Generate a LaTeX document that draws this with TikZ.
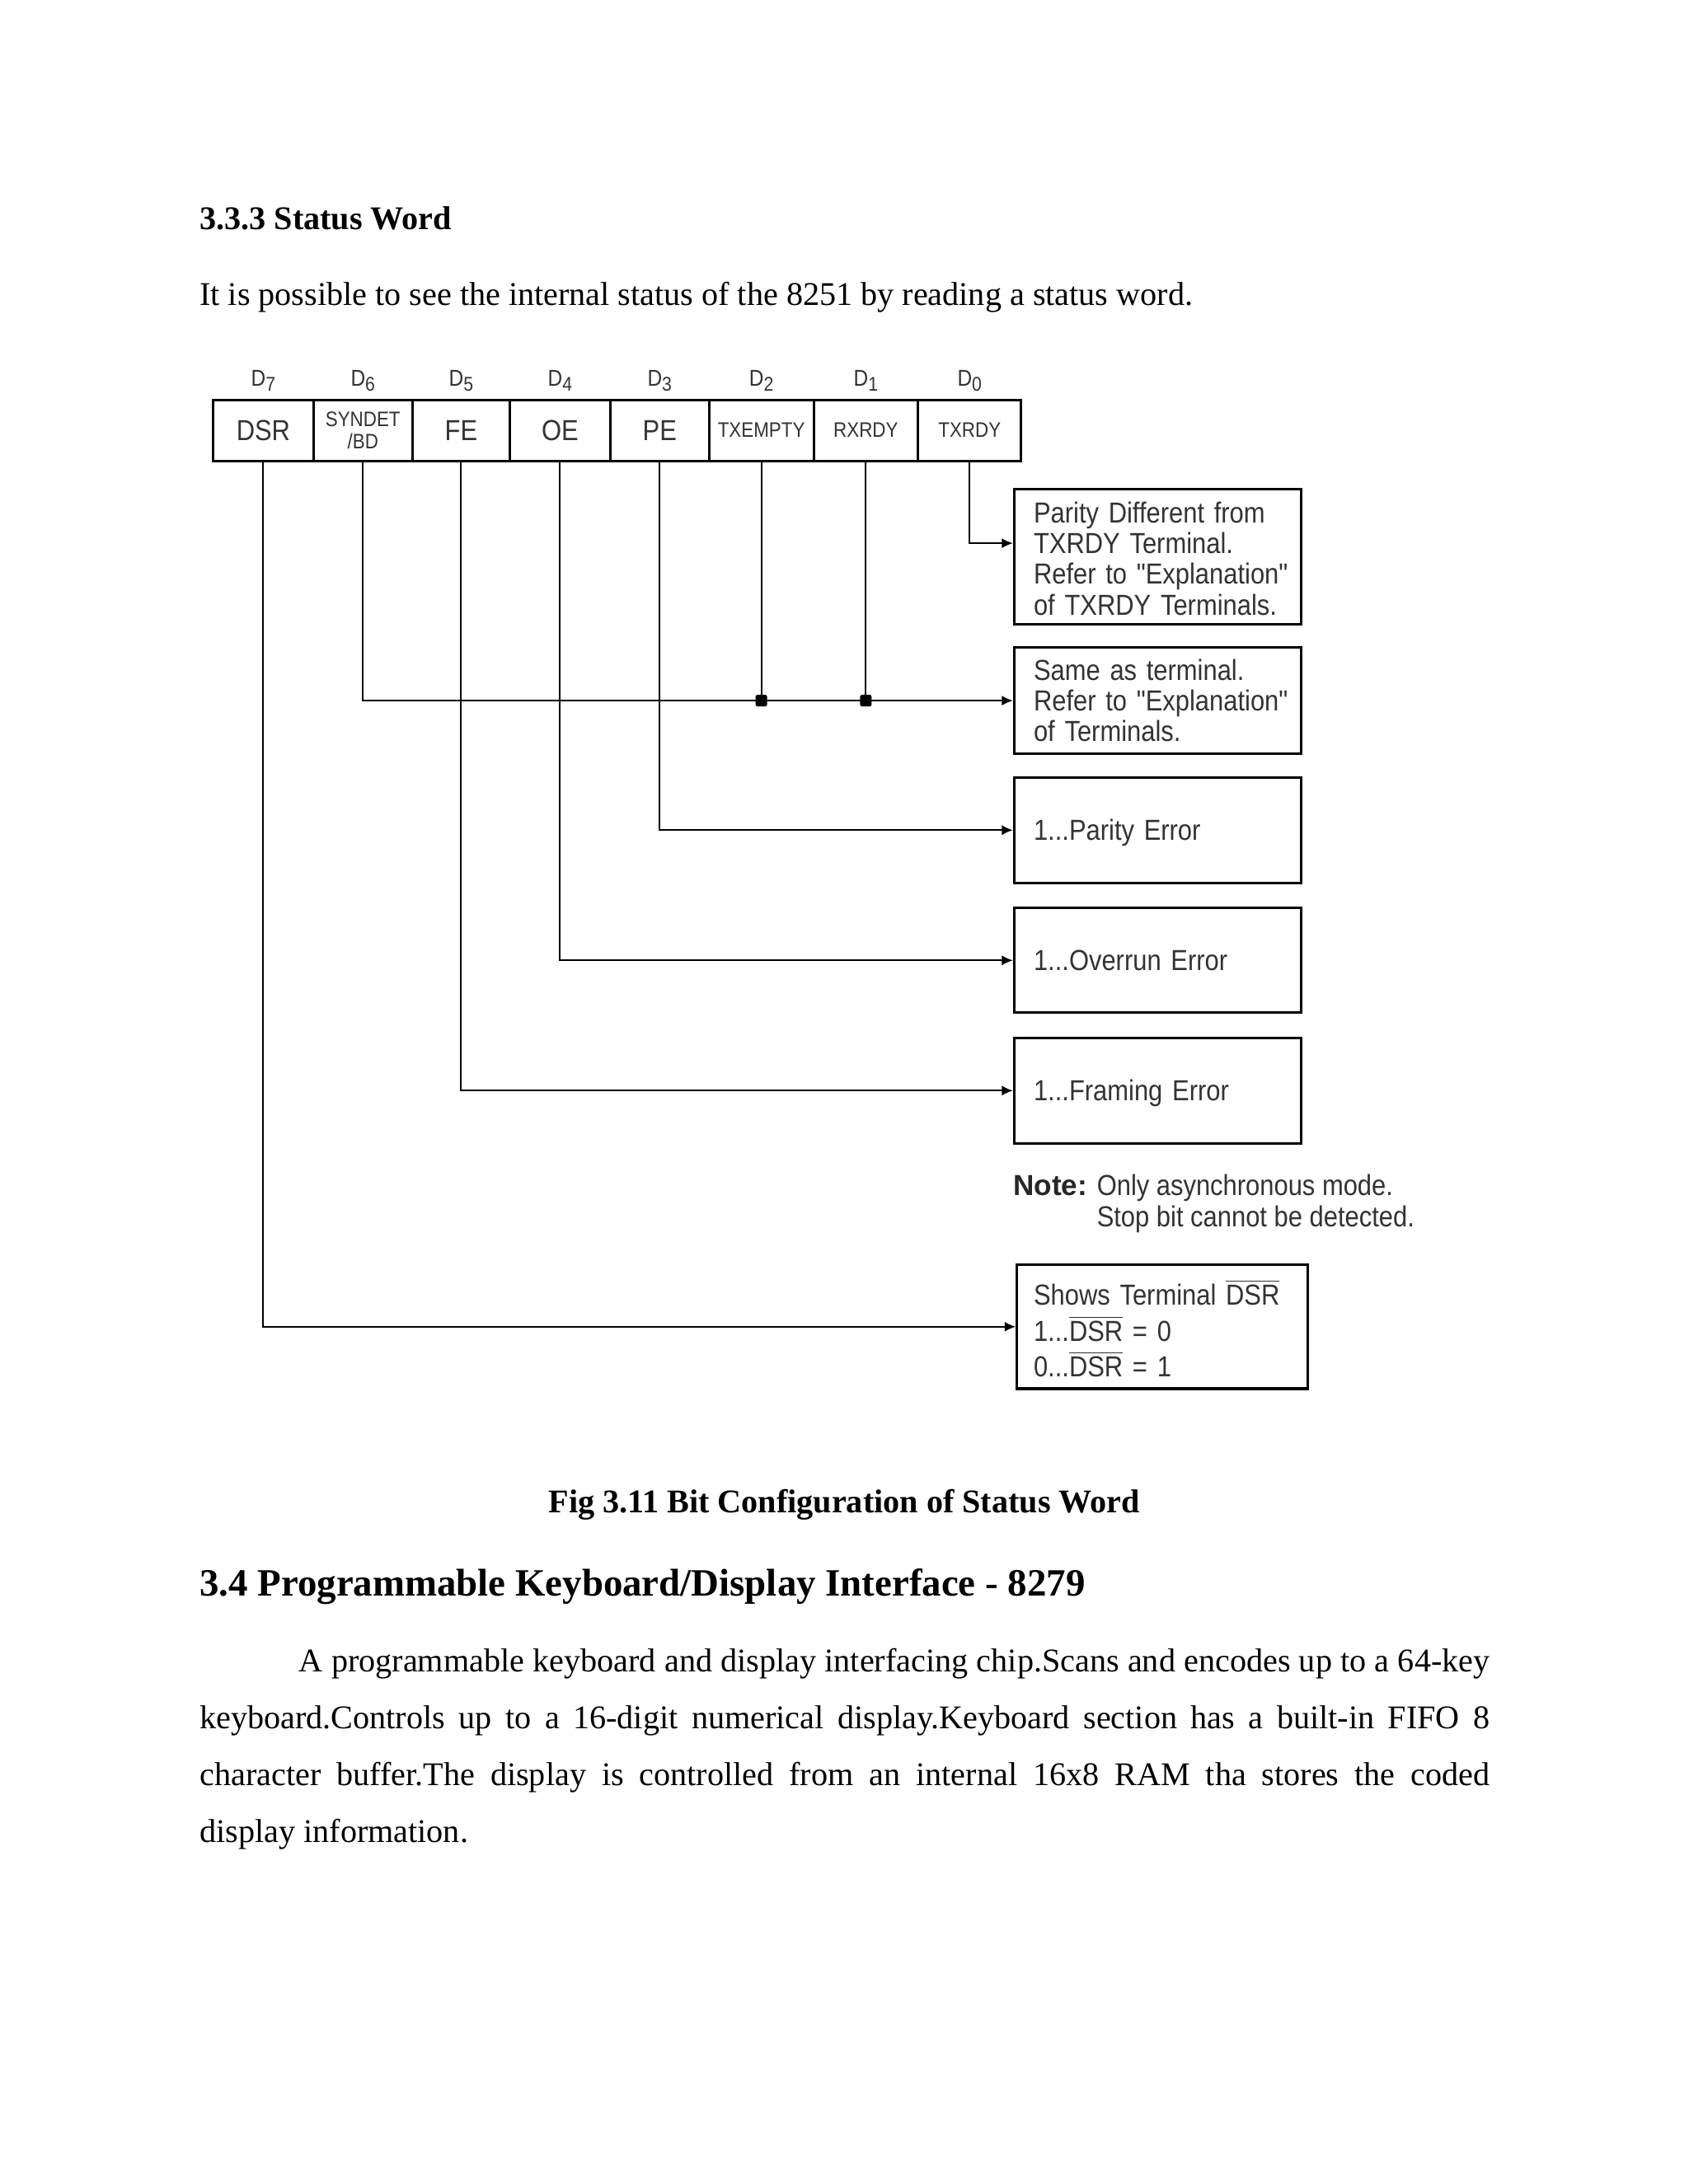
\documentclass[tikz,border=0pt]{standalone}
\usepackage{fontspec}
\setmainfont{Liberation Serif}
\newfontfamily\diagfont[FakeStretch=0.88]{Liberation Sans}
\newfontfamily\notefont{Liberation Sans}
\usetikzlibrary{positioning,arrows.meta}

\newcommand\upx{0.50495pt}
\newcommand\ovl[1]{$\overline{\hbox{#1}}$}
\newcommand\bitno[1]{D\raisebox{-1.8pt}{\fontsize{7.2}{8}\selectfont #1}}
\newcommand\lines[2][0pt]{\begin{tabular}{@{}l@{}}\rule{0pt}{#1}#2\end{tabular}}

\tikzset{
  bodytext/.style={inner sep=0pt, font=\fontsize{12}{14}\selectfont},
  bitcell/.style={draw, line width=0.9pt, minimum height=44*\upx, inner sep=0pt,
    outer sep=0pt, align=center, text=black!80, font=\diagfont\fontsize{10.5}{11}\selectfont},
  smallcell/.style={font=\diagfont\fontsize{7.6}{9}\selectfont},
  bitname/.style={inner sep=0pt, text=black!80, font=\diagfont\fontsize{8.3}{9}\selectfont},
  infobox/.style={draw, line width=0.9pt, inner xsep=14*\upx, inner ysep=0pt,
    text width=178*\upx, minimum width=206*\upx, align=left, text=black!80,
    font=\diagfont\fontsize{10.5}{11.1}\selectfont},
  wire/.style={line width=0.6pt, -{Latex[length=4pt,width=3.6pt]}},
  tap/.style={line width=0.6pt},
  junc/.style={fill, rectangle, rounded corners=0.7pt, minimum size=4.2pt, inner sep=0pt}
}

\begin{document}
\begin{tikzpicture}[x=0.50495pt, y=-0.50495pt]
\useasboundingbox (0,0) rectangle (1212,1568);

% text above the figure
\node[bodytext, anchor=base west, font=\fontsize{12}{14}\selectfont\bfseries] (title) at (143,165) {3.3.3 Status Word};
\node[bodytext, anchor=base west] (intro) at (143,219) {It is possible to see the internal status of the 8251 by reading a status word.};

% status word cells
\node[bitcell, minimum width=72*\upx] (c7) at (189,309) {DSR};
\node[bitcell, smallcell, minimum width=71*\upx, right=0pt of c7] (c6) {SYNDET\\[-1pt]/BD};
\node[bitcell, minimum width=70*\upx, right=0pt of c6] (c5) {FE};
\node[bitcell, minimum width=72*\upx, right=0pt of c5] (c4) {OE};
\node[bitcell, minimum width=71*\upx, right=0pt of c4] (c3) {PE};
\node[bitcell, smallcell, minimum width=75*\upx, right=0pt of c3] (c2) {TXEMPTY};
\node[bitcell, smallcell, minimum width=75*\upx, right=0pt of c2] (c1) {RXRDY};
\node[bitcell, smallcell, minimum width=74*\upx, right=0pt of c1] (c0) {TXRDY};

\foreach \b in {0,...,7}
  \node[bitname, above=3pt of c\b] (d\b) {\bitno{\b}};

% explanation boxes
\node[infobox, minimum height=95*\upx] (b1) at (831,399.5) {\lines[12.4pt]{Parity Different from\\TXRDY Terminal.\\Refer to "Explanation"\\of TXRDY Terminals.}};
\node[infobox, minimum height=76*\upx] (b2) at (831,503) {\lines[10.8pt]{Same as terminal.\\Refer to "Explanation"\\of Terminals.}};
\node[infobox, minimum height=76*\upx] (b3) at (831,596) {\lines[10.6pt]{1...Parity Error}};
\node[infobox, minimum height=75*\upx] (b4) at (831,689.5) {\lines[10.6pt]{1...Overrun Error}};
\node[infobox, minimum height=76*\upx] (b5) at (831,783) {\lines[10.6pt]{1...Framing Error}};
\node[inner sep=0pt, anchor=base west, text=black!85, font=\notefont\bfseries\fontsize{10.5}{11}\selectfont] (note) at (727,858) {Note:};
\node[inner sep=0pt, anchor=base west, align=left, text=black!80, font=\diagfont\fontsize{10.5}{11.6}\selectfont] (notetxt) at (787,881) {Only asynchronous mode.\\Stop bit cannot be detected.};
\node[infobox, inner xsep=12*\upx, text width=185*\upx, minimum width=209*\upx, minimum height=89*\upx,
  font=\diagfont\fontsize{10.5}{12.2}\selectfont] (b6) at (834.5,952.5) {\lines[14.2pt]{Shows Terminal \ovl{DSR}\\1...\ovl{DSR} = 0\\0...\ovl{DSR} = 1}};

% connectors
\draw[wire] (c0.south) |- ([yshift=4.8pt]b1.west);
\draw[wire] (c6.south) |- (b2.west);
\draw[tap] (c2.south) -- (c2.south |- b2.west) node[junc] (j2) {};
\draw[tap] (c1.south) -- (c1.south |- b2.west) node[junc] (j1) {};
\draw[wire] (c3.south) |- (b3.west);
\draw[wire] (c4.south) |- (b4.west);
\draw[wire] (c5.south) |- (b5.west);
\draw[wire] (c7.south) |- (b6.west);

% text below the figure
\node[bodytext, anchor=base, font=\fontsize{12}{14}\selectfont\bfseries] (caption) at (606,1086) {Fig 3.11 Bit Configuration of Status Word};
\node[bodytext, anchor=base west, font=\fontsize{14}{17}\selectfont\bfseries] (sec) at (143,1146) {3.4 Programmable Keyboard/Display Interface - 8279};
\node[bodytext, anchor=base west, text width=926*\upx, align=justify, font=\fontsize{12}{20.7}\selectfont] (para) at (143,1200)
  {\hspace*{36pt}A programmable keyboard and display interfacing chip.Scans and encodes up to a 64-key\linebreak
   keyboard.Controls up to a 16-digit numerical display.Keyboard section has a built-in FIFO 8\linebreak
   character buffer.The display is controlled from an internal 16x8 RAM tha stores the coded\linebreak
   display information.};

\end{tikzpicture}
\end{document}
